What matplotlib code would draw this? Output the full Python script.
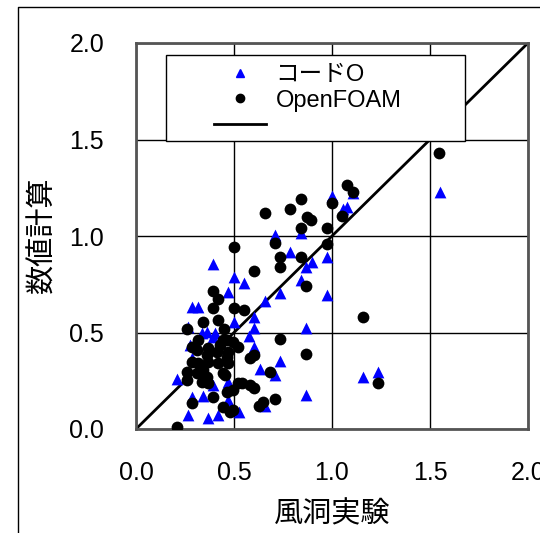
import matplotlib
matplotlib.use("Agg")
import matplotlib.pyplot as plt
from matplotlib.lines import Line2D
from matplotlib.patches import Rectangle

plt.rcParams['font.family'] = ['Liberation Sans', 'Noto Sans CJK JP', 'DejaVu Sans']

# コードO (blue triangles): wind tunnel vs. simulation
code_x = [1.00, 1.107, 1.056, 1.077, 1.551, 0.709, 0.842, 0.786, 0.974, 0.898,
          0.867, 0.842, 0.735, 0.658, 0.974, 0.50, 0.551, 0.50, 0.602, 0.602,
          0.577, 0.867, 0.602, 0.735, 0.633, 0.709, 1.158, 1.235, 0.867, 0.658,
          0.526, 0.393, 0.469, 0.286, 0.316, 0.393, 0.429, 0.276, 0.286, 0.209,
          0.393, 0.469, 0.286, 0.342, 0.469, 0.265, 0.367, 0.418, 0.265, 0.362,
          0.403, 0.337]
code_y = [1.209, 1.225, 1.142, 1.152, 1.230, 1.003, 1.018, 0.915, 0.889, 0.863,
          0.837, 0.770, 0.703, 0.661, 0.693, 0.786, 0.755, 0.553, 0.579, 0.522,
          0.481, 0.522, 0.424, 0.351, 0.310, 0.279, 0.269, 0.295, 0.176, 0.119,
          0.088, 0.853, 0.708, 0.630, 0.630, 0.475, 0.450, 0.434, 0.367, 0.258,
          0.227, 0.243, 0.165, 0.171, 0.150, 0.072, 0.057, 0.072, 0.527, 0.501,
          0.496, 0.496]

# OpenFOAM (black circles)
foam_x = [1.546, 1.077, 1.107, 0.842, 0.658, 0.786, 0.872, 0.893, 0.842, 0.974,
          1.000, 1.051, 0.500, 0.709, 0.974, 0.735, 0.842, 0.735, 0.602, 0.867,
          0.500, 0.551, 1.158, 0.735, 0.867, 0.582, 0.602, 0.684, 0.582, 0.602,
          0.520, 0.495, 0.709, 0.648, 0.628, 1.235, 0.495, 0.393, 0.418, 0.393,
          0.342, 0.418, 0.260, 0.449, 0.316, 0.286, 0.367, 0.429, 0.464, 0.495,
          0.520, 0.311, 0.362, 0.413, 0.464, 0.286, 0.316, 0.367, 0.418, 0.469,
          0.260, 0.311, 0.342, 0.444, 0.260, 0.337, 0.367, 0.464, 0.393, 0.286,
          0.444, 0.480, 0.209, 0.444, 0.469, 0.454, 0.362, 0.541]
foam_y = [1.431, 1.266, 1.230, 1.194, 1.121, 1.142, 1.096, 1.085, 1.039, 1.044,
          1.173, 1.106, 0.941, 0.966, 0.956, 0.889, 0.889, 0.837, 0.817, 0.739,
          0.625, 0.615, 0.579, 0.465, 0.388, 0.367, 0.382, 0.295, 0.227, 0.212,
          0.238, 0.202, 0.155, 0.140, 0.119, 0.238, 0.098, 0.713, 0.672, 0.625,
          0.553, 0.563, 0.517, 0.517, 0.460, 0.424, 0.419, 0.434, 0.460, 0.450,
          0.424, 0.408, 0.382, 0.398, 0.372, 0.346, 0.341, 0.346, 0.341, 0.341,
          0.295, 0.289, 0.305, 0.289, 0.253, 0.243, 0.238, 0.191, 0.165, 0.134,
          0.114, 0.088, 0.010, 0.460, 0.398, 0.279, 0.269, 0.238]

ticks = [0.0, 0.5, 1.0, 1.5, 2.0]
tick_labels = ['0.0', '0.5', '1.0', '1.5', '2.0']

fig = plt.figure(figsize=(5.40, 5.33), dpi=100)
ax = fig.add_axes([136 / 540, 1 - 429 / 533, 392 / 540, 386 / 533])

ax.plot([0, 2], [0, 2], color='black', lw=2, zorder=2)
ax.scatter(code_x, code_y, marker='^', s=72, color='#0000ff', linewidths=0, zorder=3)
ax.scatter(foam_x, foam_y, marker='o', s=72, color='black', linewidths=0, zorder=3)

ax.set_xlim(0, 2)
ax.set_ylim(0, 2)
ax.set_xticks(ticks)
ax.set_yticks(ticks)
ax.set_xticklabels(tick_labels)
ax.set_yticklabels(tick_labels)
ax.tick_params(length=0, pad=23, labelsize=18)
ax.grid(True, color='black', lw=1)
ax.set_axisbelow(True)
for sp in ax.spines.values():
    sp.set_color('#555555')
    sp.set_linewidth(2)

ax.set_xlabel('風洞実験', fontsize=21, labelpad=11)
ax.set_ylabel('数値計算', fontsize=21, labelpad=9)

# legend box with a white background
box = Rectangle((166 / 540, 1 - 141 / 533), 299 / 540, 86 / 533, transform=fig.transFigure,
                facecolor='white', edgecolor='black', lw=1, zorder=4, clip_on=False)
ax.add_patch(box)

handles = [
    Line2D([], [], marker='^', ls='none', color='#0000ff', markersize=6),
    Line2D([], [], marker='o', ls='none', color='black', markersize=6),
    Line2D([], [], color='black', lw=2),
]
ax.legend(handles, ['コードO', 'OpenFOAM', ''], loc='upper left',
          bbox_to_anchor=(214 / 540, 1 - 64 / 533), bbox_transform=fig.transFigure,
          frameon=False, fontsize=17, handlelength=2.2, handletextpad=0.4,
          labelspacing=0.15, borderpad=0, borderaxespad=0)

# outer frame of the figure
fig.add_artist(Line2D([18 / 540, 18 / 540, 1.0], [0.0, 1 - 7 / 533, 1 - 7 / 533],
                      transform=fig.transFigure, color='black', lw=1))

fig.savefig('out.png', dpi=100)
